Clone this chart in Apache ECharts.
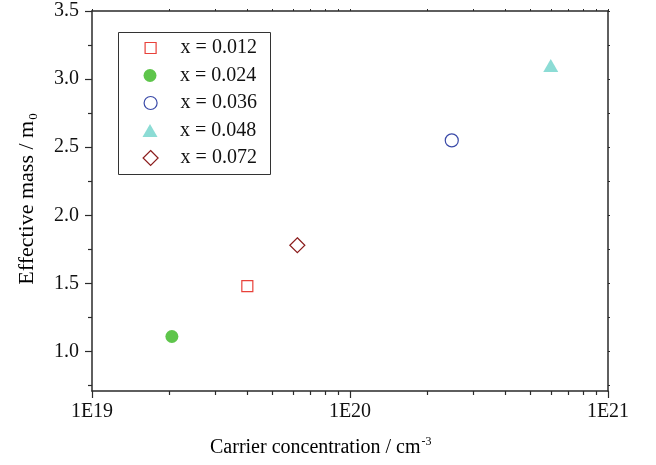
<!DOCTYPE html>
<html>
<head>
<meta charset="utf-8">
<script src="https://cdn.jsdelivr.net/npm/echarts@6/dist/echarts.min.js"></script>
<style>
  html, body { margin: 0; padding: 0; background: #fff; }
  #chart { width: 656px; height: 465px; }
</style>
</head>
<body>
<div id="chart"></div>
<script>
// Effective mass vs. carrier concentration for several compositions x
const seriesNames = ['x = 0.012', 'x = 0.024', 'x = 0.036', 'x = 0.048', 'x = 0.072'];
const carrierConc = [4.0e19, 2.04e19, 2.48e20, 6.0e20, 6.25e19];   // cm^-3
const effMass     = [1.48, 1.11, 2.55, 3.10, 1.78];               // m/m0

// axis ticks
const xMajorTicks = [1e19, 1e20, 1e21];
const xTickLabels = ['1E19', '1E20', '1E21'];
const xMinorTicks = [2e19, 3e19, 4e19, 5e19, 6e19, 7e19, 8e19, 9e19,
                     2e20, 3e20, 4e20, 5e20, 6e20, 7e20, 8e20, 9e20];
const yMajorTicks = [1.0, 1.5, 2.0, 2.5, 3.0, 3.5];
const yMinorTicks = [0.75, 1.25, 1.75, 2.25, 2.75, 3.25];

const FONT = 'Liberation Serif';
const AXIS_COLOR = '#2a2a2a';

const markerStyles = [
  { symbol: 'rect',     size: [11, 11], color: '#fff',    border: '#e8413a', bw: 1.2 },
  { symbol: 'circle',   size: [13, 13], color: '#5ec54b', border: null,      bw: 0 },
  { symbol: 'circle',   size: [13, 13], color: '#fff',    border: '#3a4aa8', bw: 1.2 },
  { symbol: 'triangle', size: [15, 13], color: '#8cdcd5', border: null,      bw: 0 },
  { symbol: 'diamond',  size: [15, 15], color: '#fff',    border: '#8b1c1c', bw: 1.2 }
];

// axis extent (upper bound nudged so the 1E21 tick survives float rounding)
const xRange = { type: 'log', logBase: 10, min: 1e19, max: 1.0000001e21 };
const yRange = { type: 'value', min: 0.71, max: 3.5 };
const gridBox = { left: 92, right: 48, top: 11, bottom: 74, containLabel: false };

const series = seriesNames.map((name, i) => {
  const m = markerStyles[i];
  return {
    name: name,
    type: 'scatter',
    xAxisIndex: 0,
    yAxisIndex: 0,
    symbol: m.symbol,
    symbolSize: m.size,
    itemStyle: {
      color: m.color,
      borderColor: m.border || m.color,
      borderWidth: m.bw,
      opacity: 1
    },
    data: [[carrierConc[i], effMass[i]]]
  };
});

// legend: one entry per component so every icon keeps its own marker size
const LEGEND_BOX = { x: 118, y: 32, w: 152, h: 142 };
const LEGEND_ICON_X = 150, LEGEND_TEXT_X = 180, LEGEND_ROW0 = 48, LEGEND_STEP = 27.5;
const legends = seriesNames.map((name, i) => {
  const [w, h] = markerStyles[i].size;
  return {
    orient: 'vertical',
    left: LEGEND_ICON_X - w / 2,
    top: LEGEND_ROW0 + i * LEGEND_STEP - 10,
    padding: 0,
    itemWidth: w, itemHeight: h, itemGap: 5,
    selectedMode: false,
    itemStyle: { borderWidth: markerStyles[i].bw },
    formatter: n => '{t|' + n + '}',
    textStyle: {
      fontFamily: FONT, fontSize: 20, lineHeight: 20, color: '#111',
      rich: { t: { fontFamily: FONT, fontSize: 20, lineHeight: 20, color: '#111',
                   padding: [0, 0, 0, LEGEND_TEXT_X - (LEGEND_ICON_X + w / 2 + 5)] } }
    },
    data: [name]
  };
});

const option = {
  animation: false,
  backgroundColor: '#fff',
  grid: [Object.assign({}, gridBox), Object.assign({}, gridBox)],
  xAxis: [
    Object.assign({}, xRange, {
      gridIndex: 0, position: 'bottom',
      axisLine: { show: true, lineStyle: { color: AXIS_COLOR, width: 1.5 } },
      axisTick: { show: true, length: 7, customValues: xMajorTicks, lineStyle: { color: AXIS_COLOR, width: 1.2 } },
      axisLabel: {
        show: true, customValues: xMajorTicks, margin: 11,
        fontFamily: FONT, fontSize: 20, color: '#111',
        formatter: v => xTickLabels[xMajorTicks.findIndex(t => Math.abs(Math.log10(t) - Math.log10(v)) < 1e-3)]
      },
      splitLine: { show: false }, minorTick: { show: false }
    }),
    Object.assign({}, xRange, {
      gridIndex: 0, position: 'top',
      axisLine: { show: true, lineStyle: { color: AXIS_COLOR, width: 1.5 } },
      axisTick: { show: true, length: 2, customValues: xMajorTicks.concat(xMinorTicks), lineStyle: { color: AXIS_COLOR, width: 1 } },
      axisLabel: { show: false },
      splitLine: { show: false }
    }),
    Object.assign({}, xRange, {
      gridIndex: 1, position: 'bottom',
      axisLine: { show: false },
      axisTick: { show: true, length: 4, customValues: xMinorTicks, lineStyle: { color: AXIS_COLOR, width: 1.2 } },
      axisLabel: { show: false },
      splitLine: { show: false }
    })
  ],
  yAxis: [
    Object.assign({}, yRange, {
      gridIndex: 0, position: 'left',
      axisLine: { show: true, lineStyle: { color: AXIS_COLOR, width: 1.5 } },
      axisTick: { show: true, length: 7, customValues: yMajorTicks, lineStyle: { color: AXIS_COLOR, width: 1.2 } },
      axisLabel: {
        show: true, customValues: yMajorTicks, margin: 13,
        fontFamily: FONT, fontSize: 20, color: '#111',
        formatter: v => Number(v).toFixed(1)
      },
      splitLine: { show: false }
    }),
    Object.assign({}, yRange, {
      gridIndex: 0, position: 'right',
      axisLine: { show: true, lineStyle: { color: AXIS_COLOR, width: 1.5 } },
      axisTick: { show: true, length: 2, customValues: yMajorTicks.concat(yMinorTicks), lineStyle: { color: AXIS_COLOR, width: 1 } },
      axisLabel: { show: false },
      splitLine: { show: false }
    }),
    Object.assign({}, yRange, {
      gridIndex: 1, position: 'left',
      axisLine: { show: false },
      axisTick: { show: true, length: 4, customValues: yMinorTicks, lineStyle: { color: AXIS_COLOR, width: 1.2 } },
      axisLabel: { show: false },
      splitLine: { show: false }
    })
  ],
  legend: legends,
  graphic: [
    {
      type: 'rect', z: 1,
      shape: { x: LEGEND_BOX.x + 0.5, y: LEGEND_BOX.y + 0.5, width: LEGEND_BOX.w, height: LEGEND_BOX.h },
      style: { fill: '#fff', stroke: '#333', lineWidth: 1 }
    },
    {
      type: 'text', left: 210, top: 436,
      style: {
        text: '{n|Carrier concentration / cm}{s|-3}',
        rich: {
          n: { fontFamily: FONT, fontSize: 20, color: '#111', lineHeight: 24 },
          s: { fontFamily: FONT, fontSize: 12, color: '#111', verticalAlign: 'top', lineHeight: 24, padding: [0, 0, 8, 1] }
        }
      }
    },
    {
      type: 'text', x: 27, y: 199, rotation: Math.PI / 2,
      style: {
        text: '{n|Effective mass / m}{s|0}',
        align: 'center', verticalAlign: 'middle',
        rich: {
          n: { fontFamily: FONT, fontSize: 22, color: '#111', lineHeight: 26 },
          s: { fontFamily: FONT, fontSize: 13, color: '#111', verticalAlign: 'bottom', lineHeight: 26, padding: [9, 0, 0, 1] }
        }
      }
    }
  ],
  series: series
};

const chart = echarts.init(document.getElementById('chart'), null, { renderer: 'canvas' });
chart.setOption(option);
</script>
</body>
</html>
